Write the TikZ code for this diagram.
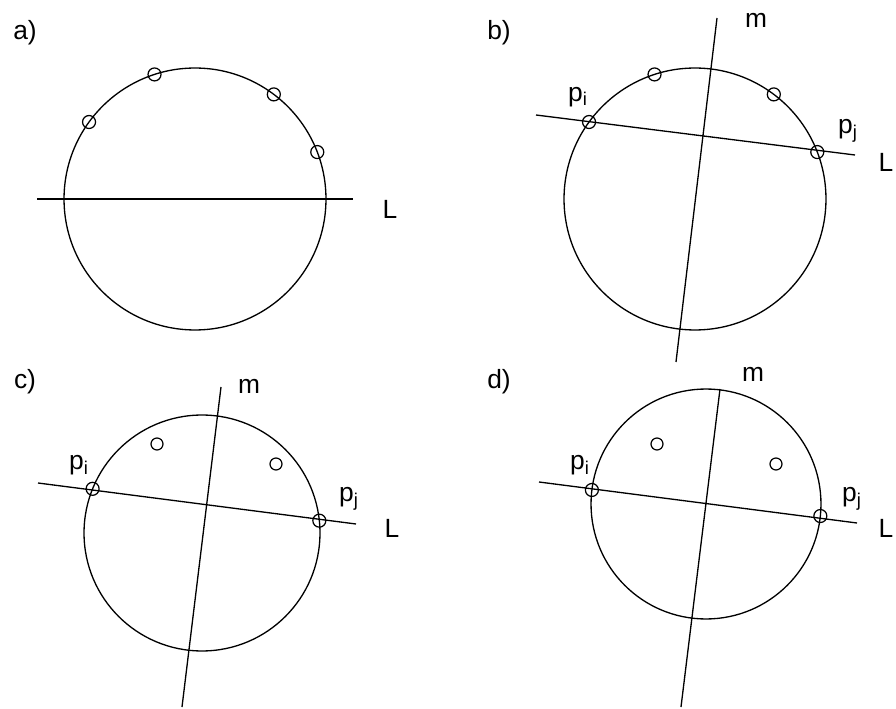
\documentclass[tikz,border=0pt]{standalone}
\usepackage{fontspec}
\setmainfont{Liberation Sans}
\usetikzlibrary{positioning}

\begin{document}
\begin{tikzpicture}[x=0.02cm, y=-0.02cm, line width=0.75pt,
  disc/.style={circle, draw, inner sep=0pt, outer sep=0pt},
  pt/.style={circle, draw, inner sep=0pt, minimum size=0.26cm, line width=0.7pt},
  lbl/.style={font=\fontsize{15}{18}\selectfont, inner sep=0pt}]
\useasboundingbox (0,0) rectangle (896,709);

% a)
\node[lbl] (ta) at (25,33) {a)};
\node[disc, minimum size=5.24cm] (ca) at (195,199) {};
\node[pt] (a1) at (ca.144) {};
\node[pt] (a2) at (ca.108.4) {};
\node[pt] (a3) at (ca.53) {};
\node[pt] (a4) at (ca.21.5) {};
\coordinate (aL1) at (37,199);
\coordinate (aL2) at (353,199);
\draw (aL1) -- (aL2);
\node[lbl] (La) at (390,209) {L};

% b)
\node[lbl] (tb) at (499,33) {b)};
\node[disc, minimum size=5.24cm] (cb) at (695,199) {};
\node[pt] (bpi) at (cb.144) {};
\node[pt] (b2) at (cb.108.4) {};
\node[pt] (b3) at (cb.53.5) {};
\node[pt] (bpj) at (cb.21.5) {};
\coordinate (bL1) at (536,115);
\coordinate (bL2) at (855,155);
\coordinate (bm1) at (717,18);
\coordinate (bm2) at (676,362);
\draw (bL1) -- (bL2);
\draw (bm1) -- (bm2);
\node[lbl] (Lb) at (886,162) {L};
\node[lbl] (mb) at (756,20) {m};
\node[lbl] (pib) at (578,97) {p\textsubscript{i}};
\node[lbl] (pjb) at (848,131) {p\textsubscript{j}};

% c)
\node[lbl] (tc) at (25,382) {c)};
\node[disc, minimum size=4.72cm] (cc) at (202,533) {};
\node[pt] (cpi) at (cc.158.7) {};
\node[pt] (cpj) at (cc.6.8) {};
\node[pt, minimum size=0.24cm] (c2) at (157,444) {};
\node[pt, minimum size=0.24cm] (c3) at (276,464) {};
\coordinate (cL1) at (38,483);
\coordinate (cL2) at (356,524);
\coordinate (cm1) at (221,387);
\coordinate (cm2) at (182,707);
\draw (cL1) -- (cL2);
\draw (cm1) -- (cm2);
\node[lbl] (Lc) at (392,528) {L};
\node[lbl] (mc) at (249,386) {m};
\node[lbl] (pic) at (79,465) {p\textsubscript{i}};
\node[lbl] (pjc) at (349,499) {p\textsubscript{j}};

% d)
\node[lbl] (td) at (499,382) {d)};
\node[disc, minimum size=4.6cm] (cd) at (706,504) {};
\node[pt] (dpi) at (cd.173) {};
\node[pt] (dpj) at (cd.-6.9) {};
\node[pt, minimum size=0.24cm] (d2) at (657,444) {};
\node[pt, minimum size=0.24cm] (d3) at (776,464) {};
\coordinate (dL1) at (539,482);
\coordinate (dL2) at (857,523);
\coordinate (dm1) at (720,389);
\coordinate (dm2) at (681,707);
\draw (dL1) -- (dL2);
\draw (dm1) -- (dm2);
\node[lbl] (Ld) at (886,528) {L};
\node[lbl] (md) at (753,374) {m};
\node[lbl] (pid) at (580,465) {p\textsubscript{i}};
\node[lbl] (pjd) at (852,499) {p\textsubscript{j}};
\end{tikzpicture}
\end{document}
